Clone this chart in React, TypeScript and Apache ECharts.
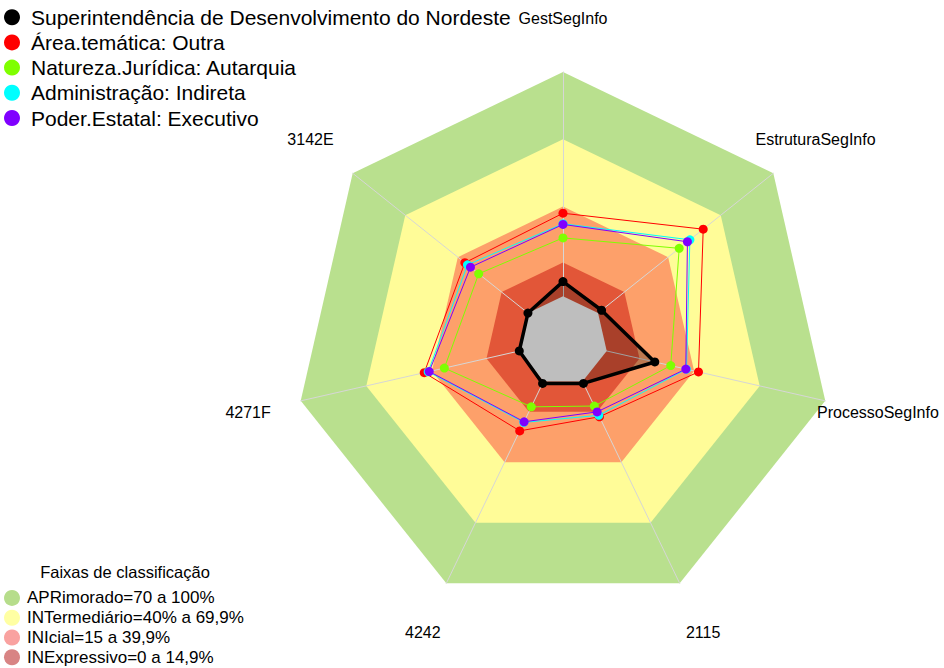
import React, { useEffect, useRef } from 'react';
import * as echarts from 'echarts';

// Axes in clockwise order starting from the top
const AXES = ['GestSegInfo', 'EstruturaSegInfo', 'ProcessoSegInfo', '2115', '4242', '4271F', '3142E'];

// Series values (clockwise axis order)
const SUDENE = [6.5, 2, 22, 1, 1, 0, 0];
const AREA_OUTRA = [37, 60, 42, 17.5, 24.5, 43.5, 36];
const AUTARQUIA = [26, 46.3, 29.3, 12.2, 12.6, 34.3, 28.1];
const INDIRETA = [32.3, 52.4, 36.5, 16.8, 20.3, 41.7, 34.5];
const EXECUTIVO = [32, 51, 36.2, 15.1, 20, 41.2, 32.8];

// Classification bands (upper limits)
const BAND_APR = [100, 100, 100, 100, 100, 100, 100];
const BAND_INT = [70, 70, 70, 70, 70, 70, 70];
const BAND_INI = [40, 40, 40, 40, 40, 40, 40];
const BAND_INE = [15, 15, 15, 15, 15, 15, 15];
const BAND_ZERO = [0, 0, 0, 0, 0, 0, 0];

const AXIS_MIN = -20;
const AXIS_MAX = 100;

const SERIES_NAMES = [
  'Superintendência de Desenvolvimento do Nordeste',
  'Área.temática: Outra',
  'Natureza.Jurídica: Autarquia',
  'Administração: Indireta',
  'Poder.Estatal: Executivo',
];
const BAND_NAMES = [
  'APRimorado=70 a 100%',
  'INTermediário=40% a 69,9%',
  'INIcial=15 a 39,9%',
  'INExpressivo=0 a 14,9%',
];

const FONT = "'Liberation Sans', Arial, Helvetica, sans-serif";
const CX = 563;
const CY = 341;
const R = 269;
const LABEL_R = 323;

// ECharts places indicators counter-clockwise; reorder so they appear clockwise
const toCCW = (a: any[]) => [a[0], a[6], a[5], a[4], a[3], a[2], a[1]];

function buildOption() {
  const axesCCW = toCCW(AXES);
  const labels = axesCCW.map((name, i) => {
    const ang = Math.PI / 2 + (i * 2 * Math.PI) / axesCCW.length;
    return {
      type: 'text',
      x: CX + LABEL_R * Math.cos(ang),
      y: CY - LABEL_R * Math.sin(ang),
      z: 100,
      style: {
        text: name,
        fontSize: 16,
        fontFamily: FONT,
        fill: '#000',
        align: 'center',
        verticalAlign: 'middle',
      },
    };
  });

  const band = (name: string, vals: number[], color: string) => ({
    type: 'radar',
    name,
    z: 1,
    silent: true,
    symbol: 'none',
    itemStyle: { color },
    lineStyle: { opacity: 0, width: 0 },
    areaStyle: { color, opacity: 1 },
    data: [{ value: toCCW(vals), name }],
  });

  const line = (name: string, vals: number[], color: string, width: number, z: number) => ({
    type: 'radar',
    name,
    z,
    silent: true,
    symbol: 'circle',
    symbolSize: 9,
    itemStyle: { color, borderWidth: 0 },
    lineStyle: { color, width },
    data: [{ value: toCCW(vals), name }],
  });

  return {
    animation: false,
    radar: {
      center: [CX, CY],
      radius: R,
      startAngle: 90,
      shape: 'polygon',
      z: 2,
      indicator: axesCCW.map((name) => ({ name, min: AXIS_MIN, max: AXIS_MAX })),
      axisName: { show: false },
      splitNumber: 6,
      splitLine: { show: false },
      splitArea: { show: false },
      axisTick: { show: false },
      axisLabel: { show: false },
      axisLine: { show: true, lineStyle: { color: '#D6D6D6', width: 1 } },
    },
    legend: [
      {
        left: 4,
        top: 4.6,
        padding: 0,
        orient: 'vertical',
        icon: 'circle',
        itemWidth: 28,
        itemHeight: 16,
        itemGap: 0,
        selectedMode: false,
        textStyle: { fontSize: 21, lineHeight: 25.2, color: '#000', fontFamily: FONT },
        data: [
          { name: SERIES_NAMES[0], itemStyle: { color: '#000000', borderWidth: 0 } },
          { name: SERIES_NAMES[1], itemStyle: { color: '#FF0000', borderWidth: 0 } },
          { name: SERIES_NAMES[2], itemStyle: { color: '#7FFF00', borderWidth: 0 } },
          { name: SERIES_NAMES[3], itemStyle: { color: '#00FFFF', borderWidth: 0 } },
          { name: SERIES_NAMES[4], itemStyle: { color: '#8000FF', borderWidth: 0 } },
        ],
      },
      {
        left: 4,
        top: 588,
        padding: 0,
        orient: 'vertical',
        icon: 'circle',
        itemWidth: 20,
        itemHeight: 16,
        itemGap: 0,
        selectedMode: false,
        textStyle: { fontSize: 17, lineHeight: 19.8, color: '#000', fontFamily: FONT },
        data: [
          { name: BAND_NAMES[0], itemStyle: { color: '#B6DD8B', borderWidth: 0 } },
          { name: BAND_NAMES[1], itemStyle: { color: '#FFFFA3', borderWidth: 0 } },
          { name: BAND_NAMES[2], itemStyle: { color: '#F9A2A0', borderWidth: 0 } },
          { name: BAND_NAMES[3], itemStyle: { color: '#D88484', borderWidth: 0 } },
        ],
      },
    ],
    graphic: [
      ...labels,
      {
        type: 'text',
        x: 125,
        y: 572,
        style: {
          text: 'Faixas de classificação',
          fontSize: 16.5,
          fontFamily: FONT,
          fill: '#000',
          align: 'center',
          verticalAlign: 'middle',
        },
      },
    ],
    series: [
      band(BAND_NAMES[0], BAND_APR, '#B9E08E'),
      band(BAND_NAMES[1], BAND_INT, '#FFFC98'),
      band(BAND_NAMES[2], BAND_INI, '#FDA06A'),
      band(BAND_NAMES[3], BAND_INE, '#E25638'),
      {
        type: 'radar',
        name: 'sudene-area',
        z: 3,
        silent: true,
        symbol: 'none',
        lineStyle: { opacity: 0, width: 0 },
        areaStyle: { color: 'rgba(0,0,0,0.25)', opacity: 1 },
        data: [{ value: toCCW(SUDENE), name: 'sudene-area' }],
      },
      {
        type: 'radar',
        name: 'zero',
        z: 3,
        silent: true,
        symbol: 'none',
        lineStyle: { opacity: 0, width: 0 },
        areaStyle: { color: '#BEBEBE', opacity: 1 },
        data: [{ value: toCCW(BAND_ZERO), name: 'zero' }],
      },
      line(SERIES_NAMES[1], AREA_OUTRA, '#FF0000', 1, 4),
      line(SERIES_NAMES[2], AUTARQUIA, '#7FFF00', 1, 4),
      line(SERIES_NAMES[3], INDIRETA, '#00FFFF', 1, 4),
      line(SERIES_NAMES[4], EXECUTIVO, '#8000FF', 1, 4),
      line(SERIES_NAMES[0], SUDENE, '#000000', 3.5, 4),
    ],
  };
}

export default function App() {
  const ref = useRef<HTMLDivElement>(null);
  useEffect(() => {
    if (!ref.current) return;
    const chart = echarts.init(ref.current, null, { renderer: 'svg' });
    chart.setOption(buildOption() as any);
    return () => chart.dispose();
  }, []);
  return (
    <div
      ref={ref}
      style={{ position: 'fixed', left: 0, top: 0, width: 944, height: 668, background: '#fff' }}
    />
  );
}
